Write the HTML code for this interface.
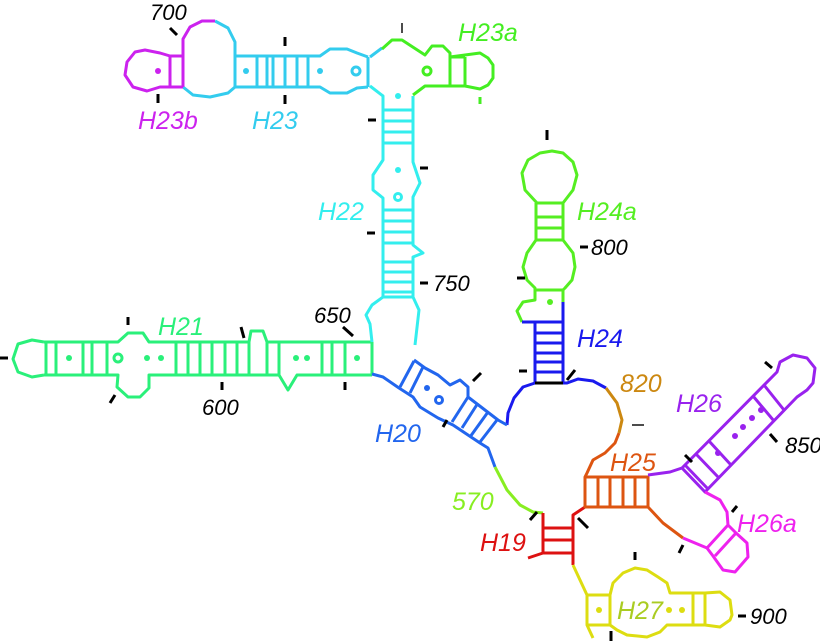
<!DOCTYPE html>
<html><head><meta charset="utf-8"><style>
html,body{margin:0;padding:0;background:#fff;}
svg{display:block}
text{font-family:"Liberation Sans",sans-serif;font-style:italic;font-size:25px;}
.n{font-size:22px;fill:#000}
polyline,line,polygon,path{fill:none;stroke-width:3;stroke-linejoin:round}
circle{fill:#fff;stroke-width:3}
.k{stroke:#000;stroke-width:1.4}
</style></head><body>
<svg width="820" height="642" viewBox="0 0 820 642" xmlns="http://www.w3.org/2000/svg">
<!-- H21 -->
<g stroke="#2af07a">
<polyline points="44,342 32,340 18,344 13,359 18,372 32,377 44,375"/>
<polyline points="44,342 118,342 128,333 143,333 149,342 249,342 251,331 263,331 267,342 372,342"/>
<polyline points="44,375 118,375 117,387 128,397 140,397 149,388 149,375 279,375 288,390 297,375 372,375"/>
<line x1="372" y1="342" x2="372" y2="375"/>
<line x1="46" y1="342" x2="46" y2="375"/><line x1="56" y1="342" x2="56" y2="375"/><line x1="83" y1="342" x2="83" y2="375"/><line x1="92" y1="342" x2="92" y2="375"/><line x1="107" y1="342" x2="107" y2="375"/>
<line x1="176" y1="342" x2="176" y2="375"/><line x1="188" y1="342" x2="188" y2="375"/><line x1="200" y1="342" x2="200" y2="375"/><line x1="212" y1="342" x2="212" y2="375"/><line x1="225" y1="342" x2="225" y2="375"/><line x1="237" y1="342" x2="237" y2="375"/><line x1="249" y1="342" x2="249" y2="375"/><line x1="267" y1="342" x2="267" y2="375"/>
<line x1="279" y1="342" x2="279" y2="375"/><line x1="322" y1="342" x2="322" y2="375"/><line x1="332" y1="342" x2="332" y2="375"/><line x1="345" y1="342" x2="345" y2="375"/>
<circle cx="118" cy="358" r="4"/>
</g>
<circle style="fill:#2af07a;stroke:none" cx="69" cy="358" r="3"/><circle style="fill:#2af07a;stroke:none" cx="147" cy="358" r="3"/><circle style="fill:#2af07a;stroke:none" cx="161" cy="358" r="3"/><circle style="fill:#2af07a;stroke:none" cx="296" cy="358" r="3"/><circle style="fill:#2af07a;stroke:none" cx="307" cy="358" r="3"/><circle style="fill:#2af07a;stroke:none" cx="357" cy="358" r="3"/>
<g class="k"><line x1="0" y1="358" x2="8" y2="358"/><line x1="128" y1="317" x2="128" y2="325"/><line x1="110" y1="403" x2="115" y2="395"/><line x1="222" y1="382" x2="222" y2="390"/><line x1="241" y1="327" x2="244" y2="338"/><line x1="343" y1="327" x2="353" y2="336"/><line x1="345" y1="382" x2="345" y2="390"/></g>
<text x="158" y="335" fill="#2af07a">H21</text>
<text x="202" y="415" class="n">600</text>
<text x="314" y="323" class="n">650</text>

<!-- H22 -->
<g stroke="#33eeee">
<polyline points="370,86 383,96 383,160 373,175 373,190 383,198 383,297 372,305 366,315 370,324 372,342"/>
<polyline points="413,96 413,162 420,183 413,197 413,245 423,253 413,257 413,297 419,310 415,345"/>
<line x1="383" y1="110" x2="413" y2="110"/><line x1="383" y1="121" x2="413" y2="121"/><line x1="383" y1="132" x2="413" y2="132"/><line x1="383" y1="143" x2="413" y2="143"/>
<line x1="383" y1="210" x2="413" y2="210"/><line x1="383" y1="221" x2="413" y2="221"/><line x1="383" y1="232" x2="413" y2="232"/><line x1="383" y1="243" x2="413" y2="243"/><line x1="383" y1="262" x2="413" y2="262"/><line x1="383" y1="272" x2="413" y2="272"/><line x1="383" y1="282" x2="413" y2="282"/><line x1="383" y1="292" x2="413" y2="292"/><line x1="383" y1="297" x2="413" y2="297"/>
<circle cx="398" cy="197" r="3.5"/>
</g>
<circle style="fill:#33eeee;stroke:none" cx="398" cy="96" r="3"/><circle style="fill:#33eeee;stroke:none" cx="398" cy="170" r="3"/>
<g class="k"><line x1="368" y1="120" x2="376" y2="120"/><line x1="420" y1="168" x2="428" y2="168"/><line x1="367" y1="233" x2="375" y2="233"/><line x1="420" y1="283" x2="428" y2="283"/></g>
<text x="318" y="220" fill="#33eeee">H22</text>
<text x="433" y="291" class="n">750</text>

<!-- H23 -->
<g stroke="#33ccee">
<polyline points="370,57 382,48"/>
<polyline points="368,57 368,87"/>
<polyline points="215,21 228,28 235,42 235,56 320,56 330,49 347,49 357,53 368,57"/>
<polyline points="183,87 193,95 210,97 228,93 235,87 320,87 330,93 347,93 357,88 368,87"/>
<line x1="235" y1="56" x2="235" y2="87"/><line x1="257" y1="56" x2="257" y2="87"/><line x1="267" y1="56" x2="267" y2="87"/><line x1="273" y1="56" x2="273" y2="87"/><line x1="285" y1="56" x2="285" y2="87"/><line x1="297" y1="56" x2="297" y2="87"/><line x1="308" y1="56" x2="308" y2="87"/>
<circle cx="356" cy="71" r="4"/>
</g>
<circle style="fill:#33ccee;stroke:none" cx="246" cy="71" r="3"/><circle style="fill:#33ccee;stroke:none" cx="320" cy="71" r="3"/>
<g class="k"><line x1="285" y1="37" x2="285" y2="46"/><line x1="285" y1="95" x2="285" y2="104"/></g>
<text x="252" y="129" fill="#33ccee">H23</text>

<!-- H23b -->
<g stroke="#cc22ee">
<polyline points="215,21 202,21 190,27 183,39 183,87"/>
<polyline points="170,56 160,53 145,50 135,52 127,62 125,75 133,87 147,91 160,87 170,87"/>
<line x1="170" y1="56" x2="183" y2="56"/><line x1="170" y1="87" x2="183" y2="87"/><line x1="170" y1="56" x2="170" y2="87"/>
</g>
<circle style="fill:#cc22ee;stroke:none" cx="158" cy="71" r="3"/>
<g class="k"><line x1="158" y1="94" x2="158" y2="103"/><line x1="170" y1="28" x2="177" y2="35"/></g>
<text x="138" y="129" fill="#cc22ee">H23b</text>
<text x="150" y="20" class="n">700</text>

<!-- H23a -->
<g stroke="#44ee22">
<polyline points="382,49 392,40 402,40 425,55 432,46 443,46 450,53 450,57 480,53 488,58 493,65 493,78 488,85 480,89 465,86 450,86 425,86 413,95"/>
<line x1="450" y1="57" x2="465" y2="57"/><line x1="450" y1="57" x2="450" y2="86"/><line x1="465" y1="57" x2="465" y2="86"/>
<circle cx="427" cy="71" r="4"/>
<line x1="480" y1="97" x2="480" y2="104"/>
</g>
<line class="k" x1="402" y1="23" x2="402" y2="33"/>
<text x="458" y="41" fill="#44ee22">H23a</text>

<!-- H24a -->
<g stroke="#55ee22">
<polyline points="537,203 525,190 522,173 528,160 540,153 552,151 563,153 573,162 577,175 573,190 563,203"/>
<line x1="536" y1="203" x2="536" y2="240"/><line x1="563" y1="203" x2="563" y2="240"/>
<line x1="536" y1="203" x2="563" y2="203"/><line x1="536" y1="217" x2="563" y2="217"/><line x1="536" y1="228" x2="563" y2="228"/><line x1="536" y1="240" x2="563" y2="240"/>
<polyline points="536,240 527,253 523,267 527,280 535,288 535,300 523,302 517,311 522,322"/>
<polyline points="563,240 573,253 575,267 572,280 565,288 563,290 563,302"/>
<line x1="535" y1="290" x2="563" y2="290"/>
</g>
<circle style="fill:#55ee22;stroke:none" cx="550" cy="302" r="3"/>
<g class="k"><line x1="547" y1="130" x2="547" y2="140"/><line x1="580" y1="247" x2="588" y2="247"/><line x1="517" y1="278" x2="525" y2="278"/></g>
<text x="577" y="220" fill="#55ee22">H24a</text>
<text x="591" y="255" class="n">800</text>

<!-- H24 -->
<g stroke="#1a1aee">
<polyline points="522,322 535,322 535,383 523,387 514,398 508,413 507,425"/>
<polyline points="563,302 563,383 567,383 578,379 593,381 606,388"/>
<line x1="535" y1="333" x2="563" y2="333"/><line x1="535" y1="343" x2="563" y2="343"/><line x1="535" y1="353" x2="563" y2="353"/><line x1="535" y1="362" x2="563" y2="362"/><line x1="535" y1="372" x2="563" y2="372"/><line x1="535" y1="322" x2="563" y2="322"/>
</g>
<line x1="535" y1="383" x2="563" y2="383" stroke="#000" stroke-width="2"/>
<g class="k"><line x1="519" y1="371" x2="527" y2="371"/><line x1="567" y1="380" x2="575" y2="370"/></g>
<text x="577" y="347" fill="#1a1aee">H24</text>

<!-- H20 -->
<g stroke="#2266ee">
<polyline points="372,374 383,377 399,388 413,397 420,407 438,418 453,425 480,443 488,448 495,467"/>
<polyline points="414,360 425,368 438,375 450,385 460,380 468,387 468,397 498,420 507,425"/>
<line x1="414" y1="361" x2="400" y2="387"/><line x1="423" y1="367" x2="410" y2="393"/>
<line x1="468" y1="397" x2="452" y2="422"/><line x1="478" y1="403" x2="462" y2="428"/><line x1="488" y1="412" x2="470" y2="437"/><line x1="497" y1="420" x2="480" y2="442"/>
<circle cx="439" cy="400" r="3.5"/>
</g>
<circle style="fill:#2266ee;stroke:none" cx="427" cy="388" r="3"/>
<g class="k"><line x1="473" y1="381" x2="481" y2="373"/><line x1="443" y1="427" x2="447" y2="420"/></g>
<text x="375" y="442" fill="#2266ee">H20</text>

<!-- 570 -->
<polyline stroke="#88ee22" points="495,467 507,490 520,505 533,512 543,513"/>
<text x="452" y="510" fill="#88ee22">570</text>

<!-- H19 -->
<g stroke="#dd1111">
<polyline points="543,513 543,553 528,558"/>
<polyline points="585,507 573,515 573,565"/>
<line x1="543" y1="528" x2="573" y2="528"/><line x1="543" y1="540" x2="573" y2="540"/><line x1="543" y1="553" x2="573" y2="553"/>
</g>
<g class="k"><line x1="530" y1="520" x2="537" y2="512"/><line x1="578" y1="518" x2="588" y2="528"/></g>
<text x="480" y="551" fill="#dd1111">H19</text>

<!-- H25 -->
<g stroke="#dd5511">
<polyline points="619,433 615,443 605,453 593,460 587,473 585,477 648,477 648,507 585,507 585,477"/>
<line x1="598" y1="477" x2="598" y2="507"/><line x1="610" y1="477" x2="610" y2="507"/><line x1="623" y1="477" x2="623" y2="507"/><line x1="635" y1="477" x2="635" y2="507"/>
<polyline points="648,507 663,523 683,538"/>
</g>
<polyline stroke="#cc8811" points="619,433 622,420 617,403 606,388"/>
<line class="k" x1="632" y1="425" x2="644" y2="425"/>
<text x="610" y="471" fill="#dd5511">H25</text>
<text x="620" y="392" fill="#cc8811">820</text>

<!-- H26 -->
<g stroke="#9922ee">
<polyline points="648,475 670,472 682,468 777,372 780,362 793,355 807,358 815,368 813,383 807,390 797,397 705,492 682,468"/>
<line x1="685" y1="465" x2="708" y2="489"/><line x1="696" y1="454" x2="719" y2="478"/><line x1="709" y1="441" x2="731" y2="465"/>
<line x1="753" y1="396" x2="774" y2="421"/><line x1="764" y1="385" x2="784" y2="410"/>
</g>
<circle style="fill:#9922ee;stroke:none" cx="718" cy="453" r="3"/><circle style="fill:#9922ee;stroke:none" cx="735" cy="436" r="3"/><circle style="fill:#9922ee;stroke:none" cx="743" cy="427" r="3"/><circle style="fill:#9922ee;stroke:none" cx="752" cy="418" r="3"/><circle style="fill:#9922ee;stroke:none" cx="761" cy="410" r="3"/>
<g class="k"><line x1="685" y1="455" x2="692" y2="462"/><line x1="765" y1="362" x2="772" y2="368"/><line x1="770" y1="434" x2="777" y2="442"/></g>
<text x="676" y="412" fill="#9922ee">H26</text>
<text x="785" y="453" class="n">850</text>

<!-- H26a -->
<g stroke="#ee22ee">
<polyline points="683,538 707,548"/>
<polyline points="705,492 720,500 727,512 728,525 736,533 747,543 748,557 735,572 723,570 713,556 707,548 728,525"/>
<line x1="715" y1="556" x2="736" y2="533"/>
</g>
<g class="k"><line x1="732" y1="512" x2="737" y2="506"/><line x1="679" y1="553" x2="683" y2="545"/></g>
<text x="737" y="532" fill="#ee22ee">H26a</text>

<!-- H27 -->
<g stroke="#dddd11">
<polyline points="573,565 587,595 587,625 593,638"/>
<polyline points="587,595 610,595 613,583 623,573 635,568 647,570 658,577 667,583 670,593 705,593 720,592 730,600 732,615 730,620 720,627 705,625 667,625 660,632 647,637 627,635 617,630 610,625 587,625"/>
<line x1="610" y1="595" x2="610" y2="625"/><line x1="693" y1="593" x2="693" y2="625"/><line x1="705" y1="593" x2="705" y2="625"/>
</g>
<circle style="fill:#dddd11;stroke:none" cx="599" cy="610" r="3"/><circle style="fill:#dddd11;stroke:none" cx="669" cy="610" r="3"/><circle style="fill:#dddd11;stroke:none" cx="682" cy="610" r="3"/>
<g class="k"><line x1="635" y1="552" x2="635" y2="560"/><line x1="611" y1="631" x2="611" y2="641"/><line x1="738" y1="616" x2="746" y2="616"/></g>
<text x="617" y="619" fill="#aacc22">H27</text>
<text x="750" y="624" class="n">900</text>
</svg>
</body></html>
